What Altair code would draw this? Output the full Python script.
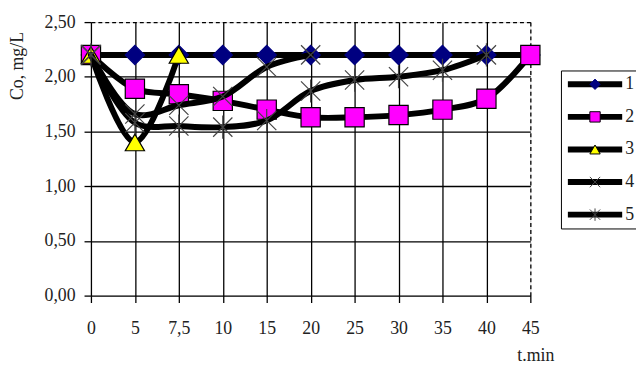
import altair as alt
import pandas as pd

# ---- data ----
times = ["0", "5", "7,5", "10", "15", "20", "25", "30", "35", "40", "45"]
series_names = ["1", "2", "3", "4", "5"]
s1 = [2.20, 2.20, 2.20, 2.20, 2.20, 2.20, 2.20, 2.20, 2.20, 2.20, 2.20]
s2 = [2.20, 1.89, 1.84, 1.78, 1.70, 1.63, 1.63, 1.65, 1.70, 1.80, 2.20]
s3 = [2.20, 1.40, 2.20]
s4 = [2.20, 1.66, 1.74, 1.82, 2.09, 2.20]
s5 = [2.20, 1.58, 1.55, 1.54, 1.60, 1.87, 1.97, 2.00, 2.06, 2.20]

marker_fill = ["#000080", "#FF00FF", "#FFFF00", "transparent", "transparent"]
marker_stroke = ["#000080", "#000000", "#000000", "#444444", "#444444"]
marker_shape = [
    "diamond",
    "square",
    "triangle-up",
    "M-1,-1L1,1M-1,1L1,-1",
    "M-1,-1L1,1M-1,1L1,-1M0,-1.2L0,1.2",
]

rows = []
for name, vals in zip(series_names, [s1, s2, s3, s4, s5]):
    for i, v in enumerate(vals):
        rows.append({"t": times[i], "idx": i, "c": v, "series": name})
df = pd.DataFrame(rows)

FONT = "Liberation Serif"

x_axis = alt.Axis(
    title="t.min",
    labelAngle=0,
    labelFont=FONT,
    labelFontSize=18,
    labelColor="#222",
    labelPadding=17,
    tickSize=7,
    tickColor="black",
    tickWidth=1.3,
    domain=False,
    grid=True,
    gridColor="black",
    gridWidth=1.3,
    gridDash={"condition": {"test": "datum.value == '45'", "value": [4, 3]}, "value": []},
    titleFont=FONT,
    titleFontSize=18,
    titleFontWeight="normal",
    titleColor="#222",
    titleX=450,
    titleY=66,
    titleAlign="center",
    titleBaseline="alphabetic",
)

y_axis = alt.Axis(
    title="Co, mg/L",
    values=[0, 0.5, 1.0, 1.5, 2.0, 2.5],
    labelExpr="replace(format(datum.value, '.2f'), '.', ',')",
    labelFont=FONT,
    labelFontSize=18,
    labelColor="#222",
    labelPadding=9,
    tickSize=7,
    tickColor="black",
    tickWidth=1.3,
    domain=False,
    grid=True,
    gridColor="black",
    gridWidth=1.3,
    gridDash={"condition": {"test": "datum.value >= 2.5", "value": [4, 3]}, "value": []},
    titleFont=FONT,
    titleFontSize=18,
    titleFontWeight="normal",
    titleColor="#222",
    titleX=-74,
    titleY=44,
    titleAlign="center",
    titleBaseline="middle",
)

base = alt.Chart(df).encode(
    x=alt.X("t:O", sort=times, scale=alt.Scale(type="point", padding=0), axis=x_axis),
    y=alt.Y("c:Q", scale=alt.Scale(domain=[0, 2.5]), axis=y_axis),
    order=alt.Order("idx:Q"),
)

common_legend = dict(
    title=None,
    orient="none",
    legendX=476,
    legendY=49,
    padding=4,
    clipHeight=20,
    rowPadding=13,
    labelFont=FONT,
    labelFontSize=18,
    labelOffset=0,
)

legend_a = alt.Legend(
    strokeColor="black",
    fillColor="white",
    symbolType="stroke",
    symbolSize=3025,
    symbolStrokeWidth=6,
    labelColor="#222",
    **common_legend,
)

legend_b = alt.Legend(
    symbolSize=110,
    symbolStrokeWidth=1,
    symbolOffset=21.5,
    labelOpacity=0,
    **common_legend,
)

line_color = alt.Color(
    "series:N",
    scale=alt.Scale(domain=series_names, range=["black"] * 5),
    legend=legend_a,
)

def lines(filter_expr):
    return base.transform_filter(filter_expr).mark_line(
        interpolate="catmull-rom", strokeWidth=6, strokeJoin="round", strokeCap="round"
    ).encode(color=line_color)

def points(filter_expr):
    return base.transform_filter(filter_expr).transform_calculate(
        s2="datum.series"
    ).mark_point(size=380, strokeWidth=1.2, opacity=1).encode(
        fill=alt.Fill("s2:N", scale=alt.Scale(range=marker_fill), legend=legend_b),
        stroke=alt.Stroke("s2:N", scale=alt.Scale(range=marker_stroke), legend=legend_b),
        shape=alt.Shape("s2:N", scale=alt.Scale(range=marker_shape), legend=legend_b),
    )

first = "datum.series <= '3'"
second = "datum.series > '3'"

chart = alt.layer(
    lines(first), points(first), lines(second), points(second)
).properties(
    width=445,
    height=277,
    autosize=alt.AutoSizeParams(type="none"),
    padding={"left": 84, "top": 12, "right": 107, "bottom": 68},
).configure_view(
    stroke="black", strokeDash=[4, 3], strokeWidth=1.3
).configure(background="white")

chart.save("out.html", embed_options={"renderer": "svg", "actions": False})
